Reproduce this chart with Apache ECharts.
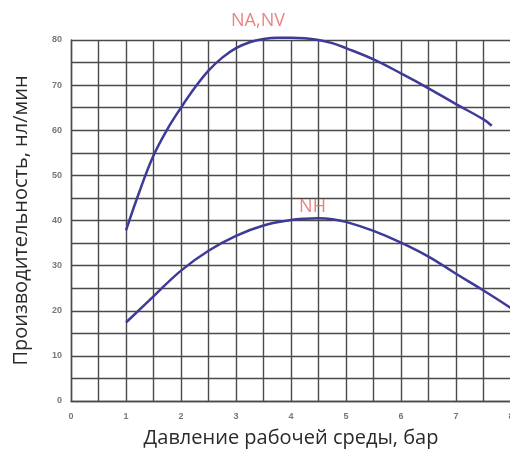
<!DOCTYPE html>
<html><head><meta charset="utf-8">
<script src="https://cdn.jsdelivr.net/npm/echarts@6/dist/echarts.min.js"></script>
<style>html,body{margin:0;padding:0;background:#fff}#c{width:510px;height:452px}</style>
</head><body><div id="c"></div>
<script>
// Pressure, bar -> flow, nl/min
const naX = [1, 1.25, 1.5, 1.75, 2, 2.25, 2.5, 2.75, 3, 3.25, 3.5, 3.75, 4, 4.25, 4.5, 4.75, 5, 5.5, 6, 6.5, 7, 7.5, 7.65];
const naY = [37.8, 46.6, 54.4, 60.2, 65, 69.4, 73.2, 76.1, 78.2, 79.5, 80.2, 80.5, 80.5, 80.4, 80, 79.3, 78.2, 75.7, 72.6, 69.3, 65.8, 62.4, 61];
const nhX = [1, 1.5, 2, 2.5, 3, 3.5, 4, 4.25, 4.5, 4.75, 5, 5.5, 6, 6.5, 7, 7.5, 8];
const nhY = [17.4, 23.2, 28.9, 33.3, 36.6, 38.9, 40.1, 40.4, 40.5, 40.3, 39.7, 37.7, 35.1, 32, 28.2, 24.5, 20.6];
const labelNA = 'NA,NV';
const labelNH = 'NH';
const xName = 'Давление рабочей среды, бар';
const yName = 'Производительность, нл/мин';

const lineColor = '#3d3a98';
const gridStyle = {color: '#4a4a4a', width: 1.4};

function pts(xs, ys) { return xs.map((x, i) => [x, ys[i]]); }
function labelPoint(xs, ys, atX) {
  const i = xs.indexOf(atX);
  return [[xs[i], ys[i]]];
}
function labelSeries(data, text, offset) {
  return {type: 'scatter', data: data, symbolSize: 1, silent: true, clip: false,
    itemStyle: {color: lineColor},
    label: {show: true, position: 'top', formatter: text, color: '#e46464',
      fontFamily: 'Open Sans', fontSize: 18, offset: offset}};
}

const chart = echarts.init(document.getElementById('c'), null, {renderer: 'canvas'});
chart.setOption({
  animation: false,
  grid: {left: 71, right: -1, top: 40, bottom: 51, containLabel: false, outerBoundsMode: 'none'},
  xAxis: {
    type: 'value', min: 0, max: 8, interval: 1,
    name: xName, nameLocation: 'middle', nameGap: 27,
    nameTextStyle: {fontFamily: 'Open Sans', fontSize: 20, color: '#2a2a2a'},
    axisLine: {show: true, lineStyle: gridStyle},
    axisTick: {show: false},
    axisLabel: {color: '#777', fontSize: 9, fontWeight: 'bold', fontFamily: 'Arial', margin: 11},
    splitLine: {show: true, lineStyle: gridStyle},
    minorTick: {show: false, splitNumber: 2},
    minorSplitLine: {show: true, lineStyle: gridStyle}
  },
  yAxis: {
    type: 'value', min: 0, max: 80, interval: 10,
    name: yName, nameLocation: 'middle', nameGap: 40,
    nameTextStyle: {fontFamily: 'Open Sans', fontSize: 20, color: '#2a2a2a'},
    axisLine: {show: true, lineStyle: gridStyle},
    axisTick: {show: false},
    axisLabel: {color: '#777', fontSize: 9, fontWeight: 'bold', fontFamily: 'Arial', margin: 9},
    splitLine: {show: true, lineStyle: gridStyle},
    minorTick: {show: false, splitNumber: 2},
    minorSplitLine: {show: true, lineStyle: gridStyle}
  },
  series: [
    {type: 'line', smooth: 0.4, showSymbol: false, clip: false,
     lineStyle: {color: lineColor, width: 2.5}, data: pts(naX, naY)},
    {type: 'line', smooth: 0.4, showSymbol: false, clip: false,
     lineStyle: {color: lineColor, width: 2.5}, data: pts(nhX, nhY)},
    labelSeries(labelPoint(naX, naY, 4), labelNA, [-33, -2]),
    labelSeries(labelPoint(nhX, nhY, 4.5), labelNH, [-6, 3])
  ]
});
</script></body></html>
